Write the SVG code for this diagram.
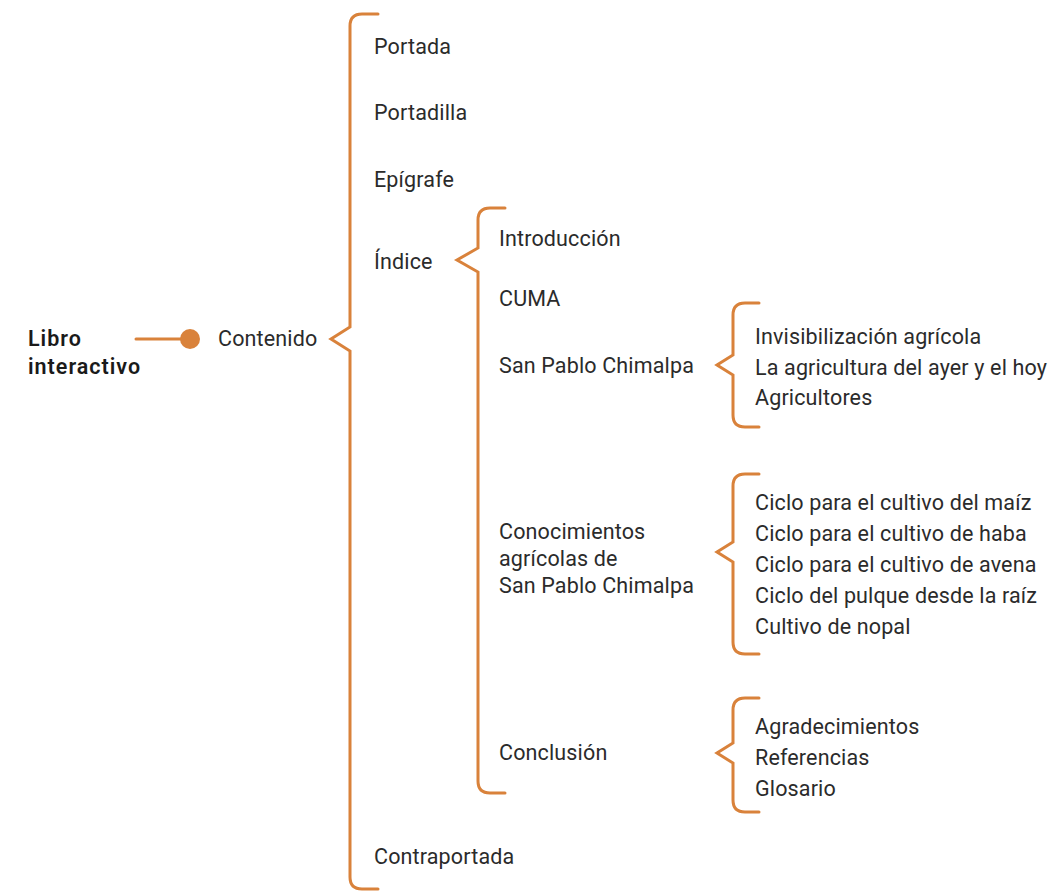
<svg xmlns="http://www.w3.org/2000/svg" width="1052" height="893" viewBox="0 0 1052 893">
<style>
text{font-family:Roboto,"Liberation Sans",sans-serif;font-size:21.5px;letter-spacing:0.15px;fill:#2b2b2b}
.b{font-weight:600;fill:#1a1a1a;letter-spacing:1px}
.br{fill:none;stroke:#D9823B;stroke-width:3;stroke-linecap:round;stroke-linejoin:miter}
</style>
<rect width="1052" height="893" fill="#fff"/>
<g id="connectors">
<line x1="136" y1="339" x2="185" y2="339" stroke="#D9823B" stroke-width="3" stroke-linecap="round"/>
<circle cx="190" cy="339" r="10" fill="#D9823B"/>
<path class="br" d="M378 14 H362 Q350 14 350 26 V327 L331 339 L350 351 V877 Q350 889 362 889 H378"/>
<path class="br" d="M505 208 H490 Q478 208 478 220 V248 L457 260 L478 272 V781 Q478 793 490 793 H505"/>
<path class="br" d="M759 303 H745 Q733 303 733 315 V355 L717 365 L733 375 V415 Q733 427 745 427 H759"/>
<path class="br" d="M759 474 H745 Q733 474 733 486 V542 L717 552 L733 562 V642 Q733 654 745 654 H759"/>
<path class="br" d="M759 698 H745 Q733 698 733 710 V743 L717 753 L733 763 V800 Q733 812 745 812 H759"/>
</g>
<g id="root"><text class="b" x="28" y="346">Libro</text><text class="b" x="28" y="374">interactivo</text></g>
<g id="contenido"><text x="218" y="346">Contenido</text></g>
<g id="portada"><text x="374" y="54">Portada</text></g>
<g id="portadilla"><text x="374" y="120">Portadilla</text></g>
<g id="epigrafe"><text x="374" y="187">Epígrafe</text></g>
<g id="indice"><text x="374" y="269">Índice</text></g>
<g id="contraportada"><text x="374" y="864">Contraportada</text></g>
<g id="introduccion"><text x="499" y="246">Introducción</text></g>
<g id="cuma"><text x="499" y="306">CUMA</text></g>
<g id="sanpablo"><text x="499" y="373">San Pablo Chimalpa</text></g>
<g id="conocimientos"><text x="499" y="539">Conocimientos</text><text x="499" y="566">agrícolas de</text><text x="499" y="593">San Pablo Chimalpa</text></g>
<g id="conclusion"><text x="499" y="760">Conclusión</text></g>
<g id="sp-items"><text x="755" y="344">Invisibilización agrícola</text><text x="755" y="375">La agricultura del ayer y el hoy</text><text x="755" y="405">Agricultores</text></g>
<g id="con-items"><text x="755" y="510">Ciclo para el cultivo del maíz</text><text x="755" y="541">Ciclo para el cultivo de haba</text><text x="755" y="572">Ciclo para el cultivo de avena</text><text x="755" y="603">Ciclo del pulque desde la raíz</text><text x="755" y="634">Cultivo de nopal</text></g>
<g id="concl-items"><text x="755" y="734">Agradecimientos</text><text x="755" y="765">Referencias</text><text x="755" y="796">Glosario</text></g>
</svg>
